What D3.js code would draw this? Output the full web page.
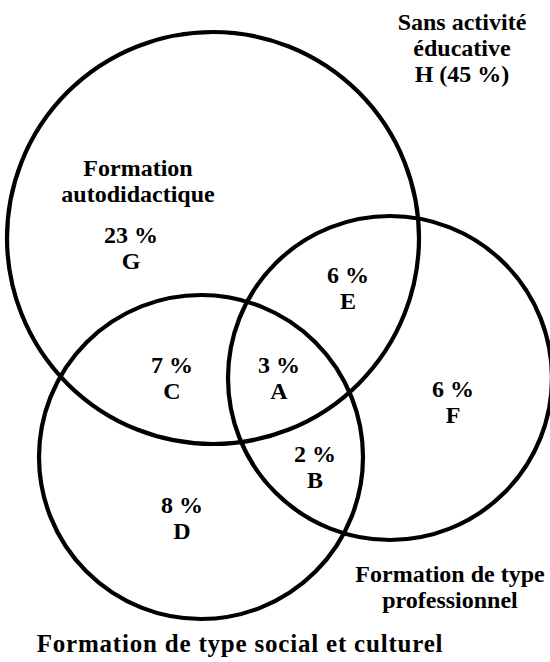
<!DOCTYPE html>
<html>
<head>
<meta charset="utf-8">
<script src="https://cdn.jsdelivr.net/npm/d3@7"></script>
<style>
  body { margin: 0; background: #fff; }
</style>
</head>
<body>
<svg id="chart" width="550" height="662"></svg>
<script>
// sets of the diagram
const setNames = ["autodidactique", "professionnel", "social"];
const setLabels = [
  ["Formation", "autodidactique"],
  ["Formation de type", "professionnel"],
  ["Formation de type social et culturel"]
];
// regions (letter, share in %)
const regionLetters = ["A", "B", "C", "D", "E", "F", "G"];
const regionValues = [3, 2, 7, 8, 6, 6, 23];
const outsideLetter = "H";
const outsideValue = 45;
const outsideLabel = ["Sans activité", "éducative"];

// layout, in pixel units of the original figure
const circleLayout = {
  autodidactique: { cx: 213, cy: 238, r: 206 },
  professionnel: { cx: 390, cy: 378, r: 162 },
  social: { cx: 201, cy: 457, r: 162 }
};
const regionPos = {
  A: [279, 373], B: [315, 462], C: [172, 373], D: [182, 513],
  E: [348, 283], F: [453, 397], G: [131, 243]
};
const setLabelPos = {
  autodidactique: [138, 176],
  professionnel: [450, 582],
  social: [240, 652]
};
const outsidePos = [462, 30];

const width = 550, height = 662;
const svg = d3.select("#chart");
const x = d3.scaleLinear().domain([0, 550]).range([0, width]);
const y = d3.scaleLinear().domain([0, 662]).range([0, height]);

svg.append("g")
  .selectAll("circle")
  .data(setNames)
  .join("circle")
  .attr("cx", d => x(circleLayout[d].cx))
  .attr("cy", d => y(circleLayout[d].cy))
  .attr("r", d => x(circleLayout[d].r) - x(0))
  .attr("fill", "none")
  .attr("stroke", "#000")
  .attr("stroke-width", 4.2);

const lineH = 26;

function multiline(g, lines, px, py, size = 24, spacing = 0) {
  const t = g.append("text")
    .attr("x", px).attr("y", py)
    .attr("text-anchor", "middle")
    .style("font-family", "'Liberation Serif', 'Times New Roman', serif")
    .style("font-weight", "bold")
    .style("font-size", size + "px")
    .style("letter-spacing", spacing + "px")
    .style("fill", "#000");
  lines.forEach((l, i) => {
    t.append("tspan").attr("x", px).attr("dy", i === 0 ? 0 : lineH).text(l);
  });
}

const labels = svg.append("g");
regionLetters.forEach((k, i) => {
  const p = regionPos[k];
  multiline(labels, [regionValues[i] + " %", k], x(p[0]), y(p[1]));
});

setNames.forEach((s, i) => {
  const p = setLabelPos[s];
  if (s === "social") multiline(labels, setLabels[i], x(p[0]), y(p[1]), 25, 0.8);
  else multiline(labels, setLabels[i], x(p[0]), y(p[1]));
});

multiline(labels, [...outsideLabel, `${outsideLetter} (${outsideValue} %)`], x(outsidePos[0]), y(outsidePos[1]));
</script>
</body>
</html>
